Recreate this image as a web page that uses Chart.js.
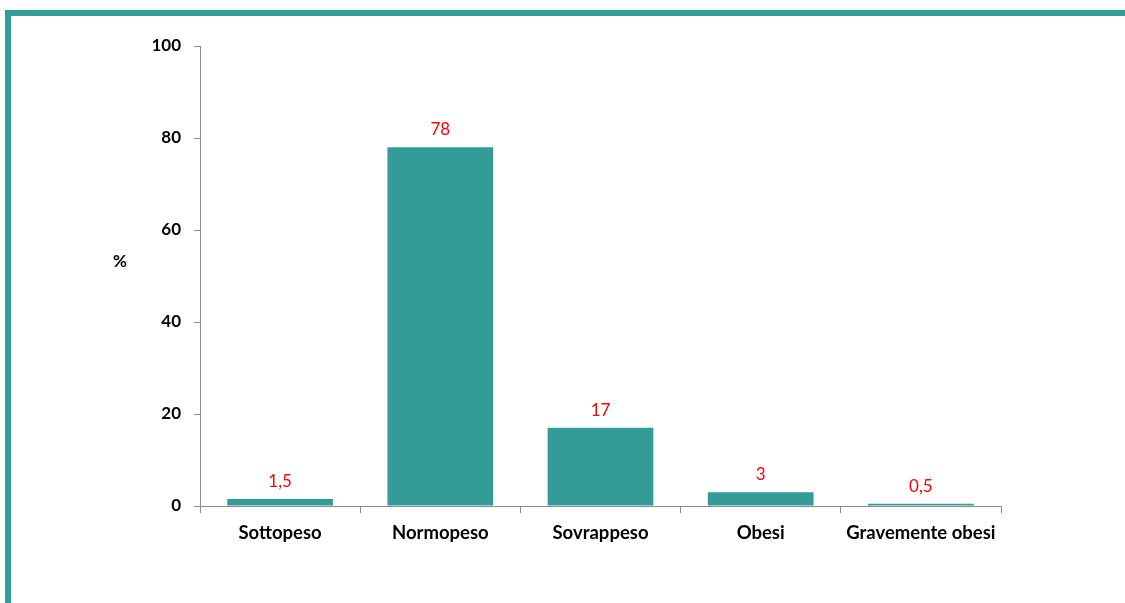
<!DOCTYPE html>
<html>
<head>
<meta charset="utf-8">
<script src="https://cdn.jsdelivr.net/npm/chart.js@4/dist/chart.umd.min.js"></script>
<style>
  html, body { margin: 0; padding: 0; background: #fff; }
  body { width: 1125px; height: 603px; position: relative; overflow: hidden; }
  #frame {
    position: absolute; left: 5px; top: 10px; right: 0; bottom: -10px;
    border-top: 6px solid #339b98; border-left: 6px solid #339b98;
  }
  #wrap { position: absolute; left: 0; top: 0; width: 1125px; height: 603px; }
</style>
</head>
<body>
<div id="frame"></div>
<div id="wrap"><canvas id="bmiChart"></canvas></div>
<script>
// categorie e valori (%)
const categories = ['Sottopeso', 'Normopeso', 'Sovrappeso', 'Obesi', 'Gravemente obesi'];
const percentValues = [1.5, 78, 17, 3, 0.5];
const yTicks = [0, 20, 40, 60, 80, 100];

const barColor = '#339b98';
const axisColor = '#8c8c8c';
const fontFamily = 'Lato, "Open Sans", sans-serif';

// etichette rosse sopra le barre
const valueLabels = {
    id: 'valueLabels',
    afterDatasetsDraw(chart) {
        const ctx = chart.ctx;
        const meta = chart.getDatasetMeta(0);
        ctx.save();
        ctx.fillStyle = '#ff0000';
        ctx.font = '17px ' + fontFamily;
        ctx.textAlign = 'center';
        ctx.textBaseline = 'bottom';
        meta.data.forEach((bar, i) => {
            const txt = String(percentValues[i]).replace('.', ',');
            ctx.fillText(txt, bar.x, bar.y - 9);
        });
        ctx.restore();
    }
};

// titolo asse y orizzontale "%"
const yTitle = {
    id: 'yTitle',
    afterDraw(chart) {
        const ctx = chart.ctx;
        const y = chart.scales.y;
        ctx.save();
        ctx.fillStyle = '#000';
        ctx.font = 'bold 17px ' + fontFamily;
        ctx.textAlign = 'center';
        ctx.textBaseline = 'middle';
        ctx.fillText('%', chart.chartArea.left - 80, (y.top + y.bottom) / 2 - 14);
        ctx.restore();
    }
};

new Chart(document.getElementById('bmiChart'), {
    type: 'bar',
    data: {
        labels: categories,
        datasets: [{
            data: percentValues,
            backgroundColor: barColor,
            borderWidth: 0,
            categoryPercentage: 1,
            barPercentage: 0.66,
        }],
    },
    options: {
        responsive: true,
        maintainAspectRatio: false,
        animation: false,
        layout: { padding: { top: 46, right: 124, left: 0, bottom: 0 } },
        plugins: {
            legend: { display: false },
            title: { display: false },
            tooltip: { enabled: false },
        },
        scales: {
            x: {
                afterFit: (scale) => { scale.height = 97; },
                grid: {
                    display: true,
                    offset: true,
                    drawOnChartArea: false,
                    drawTicks: true,
                    tickLength: 7,
                    color: axisColor,
                },
                border: { display: true, color: axisColor, width: 1 },
                ticks: {
                    color: '#000',
                    padding: 9,
                    maxRotation: 0,
                    font: { family: fontFamily, size: 18.5, weight: 'bold' },
                },
            },
            y: {
                min: 0,
                max: 100,
                afterFit: (scale) => { scale.width = 200; },
                afterBuildTicks: (scale) => { scale.ticks = yTicks.map(v => ({ value: v })); },
                grid: {
                    display: true,
                    drawOnChartArea: false,
                    drawTicks: true,
                    tickLength: 6,
                    color: axisColor,
                },
                border: { display: true, color: axisColor, width: 1 },
                ticks: {
                    color: '#000',
                    padding: 13,
                    font: { family: fontFamily, size: 17, weight: 'bold' },
                },
            },
        },
    },
    plugins: [valueLabels, yTitle],
});
</script>
</body>
</html>
